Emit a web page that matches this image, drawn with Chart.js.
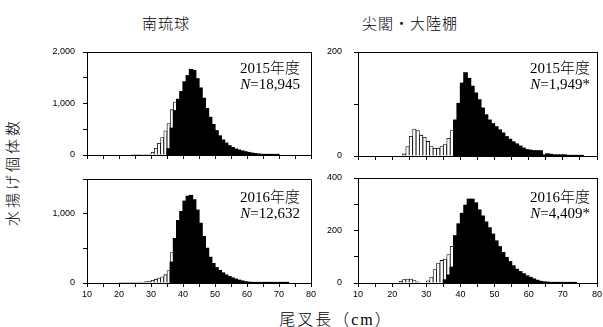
<!DOCTYPE html>
<html>
<head>
<meta charset="utf-8">
<script src="https://cdn.jsdelivr.net/npm/chart.js@4.4.0/dist/chart.umd.min.js"></script>
<style>
html, body { margin: 0; padding: 0; background: #fff; }
body { width: 603px; height: 327px; position: relative; overflow: hidden;
       font-family: "Liberation Serif", "Noto Sans CJK JP", serif; color: #000; }
canvas { position: absolute; }
.title { position: absolute; font-size: 15px; font-weight: 300; letter-spacing: 1px; white-space: nowrap;
         transform: translate(-50%, -50%); }
.note { position: absolute; font-size: 15px; font-weight: 300; line-height: 16px; text-align: right; white-space: nowrap; }
.ytitle { position: absolute; left: 11px; top: 172px; font-size: 15px; font-weight: 300; letter-spacing: 3px;
          white-space: nowrap; transform: translate(-50%, -50%) rotate(-90deg); }
.xtitle { position: absolute; left: 336px; top: 318px; font-size: 16px; font-weight: 300; letter-spacing: 2px;
          white-space: nowrap; transform: translate(-50%, -50%); }
</style>
</head>
<body>
<div class="title" style="left:166px; top:22px;">南琉球</div>
<div class="title" style="left:410px; top:22px;">尖閣・大陸棚</div>
<div class="ytitle">水揚げ個体数</div>
<div class="xtitle">尾叉長（cm）</div>

<canvas id="sr2015"></canvas>
<canvas id="sk2015"></canvas>
<canvas id="sr2016"></canvas>
<canvas id="sk2016"></canvas>

<div class="note" style="right:303px; top:60px;">2015年度<br><i>N</i>=18,945</div>
<div class="note" style="right:13px; top:60px;">2015年度<br><i>N</i>=1,949*</div>
<div class="note" style="right:303px; top:189px;">2016年度<br><i>N</i>=12,632</div>
<div class="note" style="right:13px; top:189px;">2016年度<br><i>N</i>=4,409*</div>

<script>
// fork length bins are 1 cm wide, "start" = lower edge of the first bin in the list
// 南琉球 2015
const sr15OpenStart = 24;
const sr15Open = [4, 6, 8, 10, 12, 20, 55, 130, 230, 340, 470, 610, 880, 1030];
const sr15FillStart = 35;
const sr15Fill = [120, 520, 860, 1080, 1230, 1420, 1540, 1660, 1640, 1480, 1300, 1100, 900, 730,
                  590, 470, 370, 290, 230, 180, 145, 115, 95, 78, 62, 48, 36, 26, 18, 12, 8, 5, 3, 2, 1];

// 尖閣・大陸棚 2015
const sk15OpenStart = 23;
const sk15Open = [4, 18, 38, 52, 49, 40, 36, 28, 18, 15, 15, 19, 22, 34, 49];
const sk15FillStart = 38;
const sk15Fill = [69, 101, 140, 160, 149, 134, 121, 108, 92, 79, 69, 62, 56, 50, 44, 37, 32, 27,
                  23, 19, 15, 12, 11, 10, 10, 10, 2, 4, 3, 2, 2, 2, 2, 1, 1, 1, 1, 1];

// 南琉球 2016
const sr16OpenStart = 20;
const sr16Open = [3, 4, 5, 6, 8, 10, 12, 15, 20, 28, 40, 55, 70, 90, 120, 180, 440];
const sr16FillStart = 36;
const sr16Fill = [300, 640, 900, 1030, 1180, 1250, 1262, 1200, 1050, 860, 670, 500, 370, 280, 220,
                  180, 145, 115, 92, 72, 55, 40, 28, 18, 11, 7, 4, 3, 2, 1, 1, 1, 1, 1, 1, 1, 1];

// 尖閣・大陸棚 2016
const sk16OpenStart = 22;
const sk16Open = [6, 13, 15, 15, 9, 4, 0, 0, 8, 23, 51, 76, 86, 91, 108, 140];
const sk16FillStart = 35;
const sk16Fill = [12, 30, 60, 180, 225, 265, 296, 319, 319, 305, 278, 255, 232, 210, 186, 160, 138,
                  116, 97, 81, 65, 52, 43, 35, 27, 21, 15, 10, 6, 4, 3, 2, 2, 1, 1, 1, 1, 1, 1];

const xMin = 10, xMax = 80;

const AXIS_W = 48, PAD_T = 6, PAD_R = 6;
const tickFont = { family: 'Liberation Sans', size: 9 };

function toPoints(start, counts) {
    return counts.map((c, i) => ({ x: start + i + 0.5, y: c }))
                 .filter(p => p.y > 0);
}

// box round the plot area
const frame = {
    id: 'frame',
    afterDatasetsDraw(chart) {
        const { ctx, chartArea: a } = chart;
        ctx.save();
        ctx.strokeStyle = '#000';
        ctx.lineWidth = 1;
        ctx.strokeRect(Math.round(a.left) + 0.5, Math.round(a.top) + 0.5,
                       Math.round(a.right - a.left), Math.round(a.bottom - a.top));
        ctx.restore();
    }
};

// keep the label overhang out of the layout so the plot area is exactly where we put it
function noPad(s) {
    s.paddingTop = 0; s.paddingBottom = 0; s.paddingLeft = 0; s.paddingRight = 0;
}

function panel(id, area, openStart, open, fillStart, fill, yMax, yStep, yLabelEvery, xLabels, yPad) {
    const xh = xLabels ? 18 : 6;
    const cv = document.getElementById(id);
    cv.width = area.r - area.l + AXIS_W + PAD_R;
    cv.height = area.b - area.t + PAD_T + xh;
    cv.style.left = (area.l - AXIS_W) + 'px';
    cv.style.top = (area.t - PAD_T) + 'px';
    return new Chart(cv, {
        type: 'bar',
        data: {
            datasets: [{
                data: toPoints(fillStart, fill),
                backgroundColor: '#000',
                borderWidth: 0,
                inflateAmount: 0.6,
            }, {
                data: toPoints(openStart, open),
                backgroundColor: '#fff',
                borderColor: '#000',
                borderWidth: 0.8,
            }]
        },
        options: {
            responsive: false,
            animation: false,
            devicePixelRatio: 1,
            layout: { padding: { top: PAD_T, right: PAD_R, left: 0, bottom: 0 } },
            plugins: { legend: { display: false }, tooltip: { enabled: false } },
            datasets: {
                bar: { barPercentage: 1, categoryPercentage: 1, grouped: false, borderSkipped: 'start' }
            },
            scales: {
                x: {
                    type: 'linear', min: xMin, max: xMax, offset: false,
                    grid: { drawOnChartArea: false, tickLength: 4, color: '#000', offset: false },
                    border: { color: '#000', width: 1 },
                    ticks: {
                        stepSize: 5, autoSkip: false, maxRotation: 0, padding: 2,
                        color: '#000', font: tickFont,
                        callback: v => (xLabels && v % 10 === 0) ? v : ''
                    },
                    afterFit: s => { s.height = xh; noPad(s); }
                },
                y: {
                    min: 0, max: yMax,
                    grid: { drawOnChartArea: false, tickLength: 4, color: '#000' },
                    border: { color: '#000', width: 1 },
                    ticks: {
                        stepSize: yStep, padding: yPad, color: '#000', font: tickFont,
                        callback: v => v % yLabelEvery === 0 ? v.toLocaleString('en-US') : ''
                    },
                    afterFit: s => { s.width = AXIS_W; noPad(s); }
                }
            }
        },
        plugins: [frame]
    });
}

panel('sr2015', { l: 87, r: 311, t: 52, b: 155 }, sr15OpenStart, sr15Open, sr15FillStart, sr15Fill,
      2000, 500, 1000, false, 8);
panel('sk2015', { l: 358, r: 597, t: 52, b: 156 }, sk15OpenStart, sk15Open, sk15FillStart, sk15Fill,
      200, 100, 200, false, 12);
panel('sr2016', { l: 87, r: 311, t: 179, b: 283 }, sr16OpenStart, sr16Open, sr16FillStart, sr16Fill,
      1500, 500, 1000, true, 8);
panel('sk2016', { l: 358, r: 597, t: 178, b: 283 }, sk16OpenStart, sk16Open, sk16FillStart, sk16Fill,
      400, 100, 200, true, 12);
</script>
</body>
</html>
